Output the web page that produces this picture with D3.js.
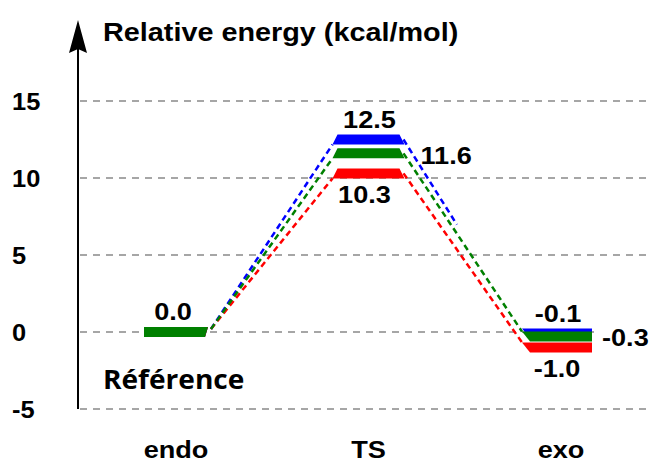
<!DOCTYPE html>
<html>
<head>
<meta charset="utf-8">
<script src="https://cdn.jsdelivr.net/npm/d3@7"></script>
<style>
  html, body { margin: 0; padding: 0; background: #fff; }
  svg { display: block; }
</style>
</head>
<body>
<svg id="chart" width="653" height="462"></svg>
<script>
// ---- data ----
const categories = ["endo", "TS", "exo"];
const seriesNames = ["blue", "red", "green"];
const blueValues  = [0.0, 12.5, -0.1];
const greenValues = [0.0, 11.6, -0.3];
const redValues   = [0.0, 10.3, -1.0];
const yTicks = [15, 10, 5, 0, -5];
const yTickLabels = ["15", "10", "5", "0", "-5"];
const titleText = "Relative energy (kcal/mol)";
const noteText = "Référence";

// label placement per series at each category (null = no label)
const bluePlace  = [null, "above", "above"];
const greenPlace = ["above", "right", "right"];
const redPlace   = [null, "below", "below"];

const colors = { blue: "#0000ff", green: "#008000", red: "#ff0000" };
const valuesBy = { blue: blueValues, green: greenValues, red: redValues };
const placeBy = { blue: bluePlace, green: greenPlace, red: redPlace };

// ---- layout ----
const svg = d3.select("#chart");
const y = d3.scaleLinear().domain([-5, 15]).range([409, 101]);
const x = d3.scalePoint().domain(categories).range([176, 561]);
const SX = 1.13; // horizontal text stretch of the source
const halfT = 5;  // half bar thickness

function txt(g, s, px, py, size, anchor, family, sx) {
  return g.append("text")
    .attr("transform", `translate(${px},${py}) scale(${sx || SX},1)`)
    .attr("text-anchor", anchor || "start")
    .attr("font-family", family || "'Liberation Sans', Arial, sans-serif")
    .attr("font-weight", "bold")
    .attr("font-size", size)
    .attr("fill", "#000")
    .text(s);
}

// gridlines
svg.append("g").selectAll("line").data(yTicks).join("line")
  .attr("x1", 80).attr("x2", 648)
  .attr("y1", d => y(d)).attr("y2", d => y(d))
  .attr("stroke", "#a6a6a6").attr("stroke-width", 2)
  .attr("stroke-dasharray", "7,6");

// y axis with arrow
const axX = 78;
svg.append("line").attr("x1", axX).attr("x2", axX)
  .attr("y1", y(-5)).attr("y2", 48)
  .attr("stroke", "#000").attr("stroke-width", 2);
svg.append("path")
  .attr("d", `M${axX},20 L${axX + 9},53 L${axX},49 L${axX - 9},53 Z`)
  .attr("fill", "#000");

// tick labels
const tg = svg.append("g");
yTicks.forEach((t, i) => txt(tg, yTickLabels[i], 12, y(t) + 9, 24, "start", null, 1.06));

// title
txt(svg, titleText, 103, 40.5, 25.5, "start");

// connectors
const cg = svg.append("g").attr("fill", "none").attr("stroke-width", 2.5)
  .attr("stroke-dasharray", "6,4");
seriesNames.forEach(s => {
  const v = valuesBy[s];
  const c = colors[s];
  // endo -> TS
  const p0 = [x("endo") + 35, y(v[0]) - 3];
  const p1 = [x("TS") - 36, y(v[1]) + halfT];
  cg.append("line").attr("x1", p0[0]).attr("y1", p0[1])
    .attr("x2", p1[0]).attr("y2", p1[1]).attr("stroke", c);
  // TS -> exo
  const q0 = [x("TS") + 35, y(v[1])];
  const q1 = [x("exo") - 39, y(v[2]) - halfT];
  if (s === "blue") {
    const a = d3.interpolateArray(q0, q1);
    const m1 = a(0.36), m2 = a(0.45);
    cg.append("line").attr("x1", q0[0]).attr("y1", q0[1])
      .attr("x2", m1[0]).attr("y2", m1[1]).attr("stroke", c);
    cg.append("line").attr("x1", m1[0]).attr("y1", m1[1])
      .attr("x2", m2[0]).attr("y2", m2[1]).attr("stroke", c)
      .attr("stroke-width", 1.2).attr("opacity", 0.45);
  } else {
    cg.append("line").attr("x1", q0[0]).attr("y1", q0[1])
      .attr("x2", q1[0]).attr("y2", q1[1]).attr("stroke", c);
  }
});

// bars (levels)
function levelPath(cat, v) {
  const cx = x(cat), yc = y(v), t = yc - halfT, b = yc + halfT;
  if (cat === "endo") return `M${cx - 32},${t} L${cx + 32},${t} L${cx + 29},${b} L${cx - 32},${b} Z`;
  if (cat === "TS") return `M${cx - 31},${t} L${cx + 31},${t} L${cx + 36},${b} L${cx - 36},${b} Z`;
  return `M${cx - 39},${t} L${cx + 31},${t} L${cx + 31},${b} L${cx - 31},${b} Z`;
}
const bg = svg.append("g");
seriesNames.forEach(s => {
  categories.forEach((cat, i) => {
    bg.append("path").attr("d", levelPath(cat, valuesBy[s][i])).attr("fill", colors[s]);
  });
});

// value labels
const lg = svg.append("g");
["blue", "green", "red"].forEach(s => {
  categories.forEach((cat, i) => {
    const p = placeBy[s][i];
    if (!p) return;
    const v = valuesBy[s][i];
    const label = v.toFixed(1);
    const cx = x(cat), yc = y(v);
    if (p === "above") {
      txt(lg, label, cx - 5 + (cat === "TS" ? 6 : 2), yc - 12, 24, "middle");
    } else if (p === "below") {
      txt(lg, label, cx - 4, yc + 30, 24, "middle");
    } else {
      const lx = cx + (cat === "TS" ? 52 : 41);
      const ly = yc + (cat === "TS" ? 11 : 9);
      if (cat === "exo") {
        lg.append("rect").attr("x", lx - 2).attr("y", ly - 19)
          .attr("width", 48).attr("height", 22).attr("fill", "#fff");
      }
      txt(lg, label, lx, ly, 24, "start");
    }
  });
});

// reference note
txt(svg, noteText, 103, 389, 27, "start", "'Open Sans', 'Noto Sans', sans-serif", 1.04);

// category labels
const xg = svg.append("g");
categories.forEach(cat => txt(xg, cat, x(cat), 458, 24, "middle"));
</script>
</body>
</html>
